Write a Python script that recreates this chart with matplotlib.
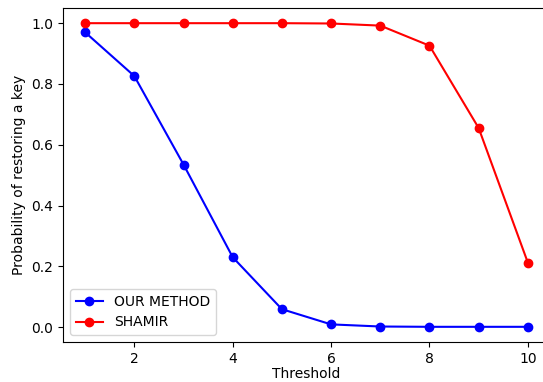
import matplotlib
matplotlib.use("Agg")
import matplotlib.pyplot as plt

thresholds = [1, 2, 3, 4, 5, 6, 7, 8, 9, 10]
our_method = [0.970, 0.826, 0.535, 0.230, 0.059, 0.009, 0.002, 0.001, 0.001, 0.001]
shamir = [1.0, 1.0, 1.0, 1.0, 1.0, 0.999, 0.992, 0.926, 0.655, 0.212]

fig = plt.figure(figsize=(5.43, 3.82), dpi=100)
ax = fig.add_axes([63/543, 40/382, 487/543, 334/382])
ax.plot(thresholds, our_method, 'o-', color='blue', label='OUR METHOD')
ax.plot(thresholds, shamir, 'o-', color='red', label='SHAMIR')
ax.set_xlabel('Threshold', labelpad=1)
ax.set_ylabel('Probability of restoring a key')
ax.legend(loc='lower left')
fig.savefig('out.png', dpi=100)
